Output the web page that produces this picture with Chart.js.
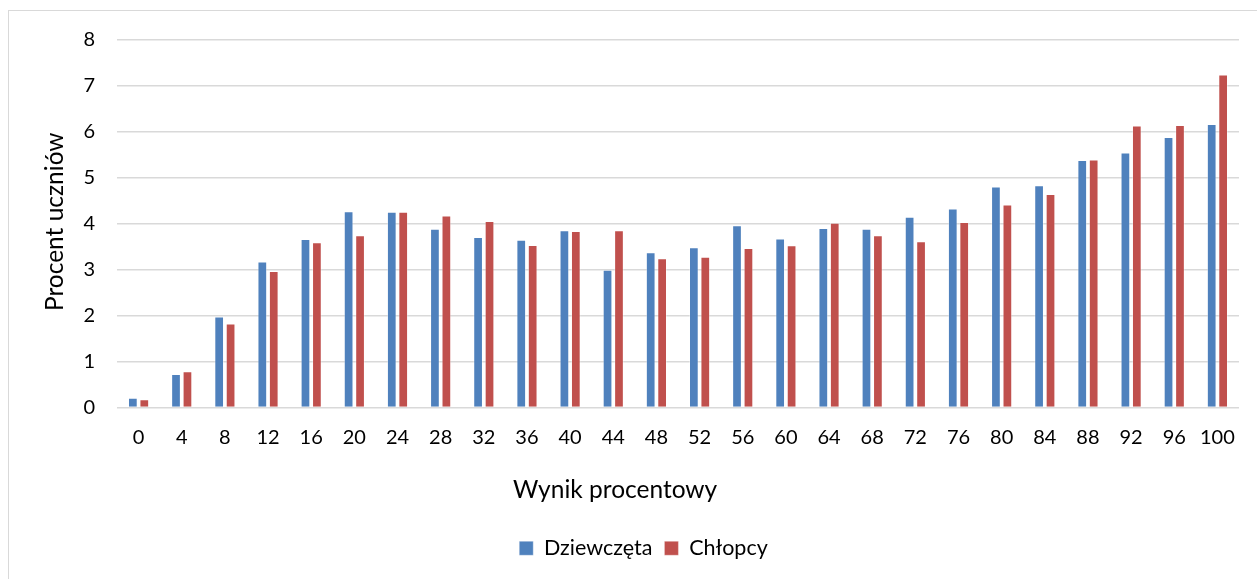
<!DOCTYPE html>
<html>
<head>
<meta charset="utf-8">
<script src="https://cdn.jsdelivr.net/npm/chart.js@4/dist/chart.umd.min.js"></script>
<style>
  html, body { margin: 0; padding: 0; background: #fff; }
  #wrap { position: relative; width: 1257px; height: 579px; overflow: hidden; }
  #frame { position: absolute; left: 8px; top: 10px; width: 1300px; height: 700px;
           border: 1.5px solid #d9d9d9; box-sizing: border-box; }
  canvas { position: absolute; left: 0; top: 0; }
</style>
</head>
<body>
<div id="wrap">
  <div id="frame"></div>
  <canvas id="c" width="1257" height="579"></canvas>
</div>
<script>
// Score buckets (percent result)
const categories = ['0','4','8','12','16','20','24','28','32','36','40','44','48','52','56','60','64','68','72','76','80','84','88','92','96','100'];

// Share of pupils (%) per bucket
const girls = [0.21,0.73,1.98,3.18,3.67,4.27,4.26,3.89,3.71,3.65,3.86,3.00,3.38,3.49,3.97,3.68,3.91,3.89,4.15,4.33,4.81,4.84,5.39,5.55,5.89,6.17];
const boys  = [0.18,0.79,1.83,2.97,3.60,3.75,4.26,4.18,4.06,3.54,3.84,3.86,3.25,3.28,3.47,3.53,4.02,3.75,3.62,4.04,4.42,4.65,5.40,6.14,6.15,7.25];

const yTicks = [0,1,2,3,4,5,6,7,8];

const xTitle = 'Wynik procentowy';
const yTitle = 'Procent uczniów';

const FONT = 'Lato, "Open Sans", sans-serif';
const TEXT = '#000000';

// Axis titles, positioned relative to the plot area
const axisTitles = {
  id: 'axisTitles',
  afterDraw(chart) {
    const { ctx, chartArea } = chart;
    ctx.save();
    ctx.font = '24.5px ' + FONT;
    ctx.fillStyle = TEXT;
    ctx.textAlign = 'center';
    ctx.textBaseline = 'middle';
    const x = chartArea.left + (chartArea.right - chartArea.left) * 0.444;
    ctx.fillText(xTitle, x, chartArea.bottom + 83);
    ctx.translate(chartArea.left - 62, (chartArea.top + chartArea.bottom) / 2 - 2);
    ctx.rotate(-Math.PI / 2);
    ctx.fillText(yTitle, 0, 0);
    ctx.restore();
  }
};

new Chart(document.getElementById('c'), {
  type: 'bar',
  data: {
    labels: categories,
    datasets: [
      { label: 'Dziewczęta', data: girls, backgroundColor: '#4F81BD',
        borderColor: 'rgba(255,255,255,0.35)', borderWidth: 1,
        barPercentage: 0.85, categoryPercentage: 0.53 },
      { label: 'Chłopcy', data: boys, backgroundColor: '#C0504D',
        borderColor: 'rgba(255,255,255,0.35)', borderWidth: 1,
        barPercentage: 0.85, categoryPercentage: 0.53 }
    ]
  },
  plugins: [axisTitles],
  options: {
    responsive: false,
    animation: false,
    layout: { padding: { left: 48, right: 18, top: 40, bottom: 10 } },
    plugins: {
      tooltip: { enabled: false },
      legend: {
        position: 'bottom',
        labels: {
          color: TEXT,
          font: { family: FONT, size: 21.5 },
          boxWidth: 14, boxHeight: 14,
          padding: 12
        }
      }
    },
    scales: {
      x: {
        grid: { display: false, drawTicks: false },
        border: { display: false },
        ticks: { color: TEXT, font: { family: FONT, size: 20 }, padding: 18,
                 maxRotation: 0, autoSkip: false },
        afterFit: (s) => { s.height = 118; }
      },
      y: {
        min: 0, max: 8,
        afterBuildTicks: (s) => { s.ticks = yTicks.map(v => ({ value: v })); },
        grid: { color: '#d9d9d9', lineWidth: 1.5, drawTicks: false },
        border: { display: false },
        ticks: { color: TEXT, font: { family: FONT, size: 20 }, padding: 22 },
        afterFit: (s) => { s.width = 69; }
      }
    }
  }
});
</script>
</body>
</html>
